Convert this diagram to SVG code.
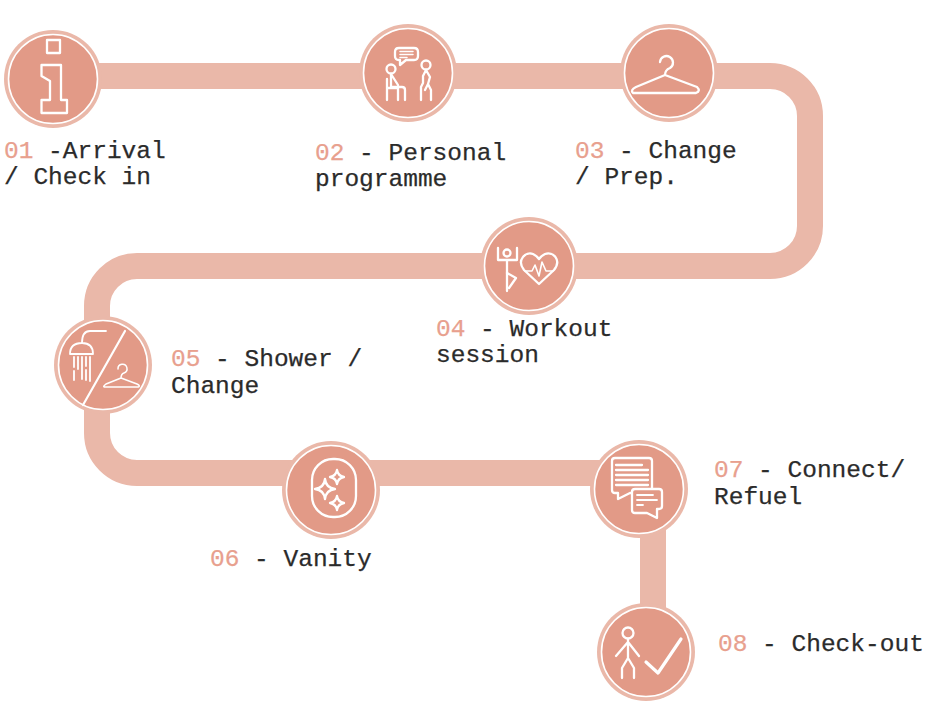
<svg xmlns="http://www.w3.org/2000/svg" width="927" height="701" viewBox="0 0 927 701">
<style>
.band{fill:none;stroke:#eab8a9;stroke-width:26}
.o{fill:#eab8a9}
.i{fill:#e29a87;stroke:#fff;stroke-width:1.6}
.g{fill:none;stroke:#fff;stroke-width:2.3;stroke-linecap:round;stroke-linejoin:round}
text{font-family:"Liberation Mono","DejaVu Sans Mono",monospace;font-size:24.5px;fill:#2b2b2b;stroke:#2b2b2b;stroke-width:.25}
text .n{fill:#e8a08e;stroke:#e8a08e}
</style>
<rect width="927" height="701" fill="#fff"/>
<g id="connectors">
<path class="band" d="M53 76H770A40 40 0 0 1 810 116V226A40 40 0 0 1 770 266H137A40 40 0 0 0 97 306V433A40 40 0 0 0 137 473H639"/>
<path class="band" d="M653 489V652"/>
</g>
<g id="node-01">
<circle class="o" cx="53" cy="79" r="49"/><circle class="i" cx="53" cy="79" r="44.5"/>
<path class="g" stroke-linejoin="miter" d="M47 40H60V53H47ZM41.500 65H61V100H67V113H41.500V100H50V81L41.500 76Z"/>
<text x="4" y="158"><tspan class="n">01</tspan> -Arrival</text>
<text x="4" y="184">/ Check in</text>
</g>
<g id="node-02">
<circle class="o" cx="408" cy="73" r="49"/><circle class="i" cx="408" cy="73" r="44.5"/>
<g class="g">
<path d="M399 48H414Q418 48 418 52V56Q418 60 414 60H406L400 65L400 60H399Q395 60 395 56V52Q395 48 399 48Z"/>
<path stroke-width="1.5" d="M400 51.500H413M400 54.500H413M400 57.500H407"/>
<circle cx="391" cy="69" r="4.500"/><circle cx="426" cy="65" r="4.500"/>
<path d="M387 79V100M391 74V87M391 74L398 85M391 87H402Q405 87 405 90V100M387 88H398V100"/>
<path d="M426 70L423 76V83L421 87V100M426 70L430 77L428 84L431 90V100M428 84L425 90"/>
</g>
<text x="315" y="160"><tspan class="n">02</tspan> - Personal</text>
<text x="315" y="186">programme</text>
</g>
<g id="node-03">
<circle class="o" cx="669" cy="73" r="49"/><circle class="i" cx="669" cy="73" r="44.5"/>
<path class="g" stroke-width="2.600" d="M660 62A6.500 6.500 0 1 1 670 68Q665 70 665 75L636 87Q630 90 633 93H696Q701 91 697 87L665 75"/>
<text x="575" y="158"><tspan class="n">03</tspan> - Change</text>
<text x="575" y="184">/ Prep.</text>
</g>
<g id="node-04">
<circle class="o" cx="529" cy="266" r="49"/><circle class="i" cx="529" cy="266" r="44.5"/>
<g class="g">
<path d="M498 248V260H517V248M507 260V291"/>
<circle cx="507" cy="253" r="3.500"/>
<path d="M507 273L516 278L509 288"/>
<path d="M539 284L524 270C516 260 526 251 533 254Q537 256 539 259Q541 256 545 254C553 251 562 260 554 270Z"/>
<path stroke-width="1.6" d="M525 271H532L535 265L539 276L542 262L546 271H553"/>
</g>
<text x="436" y="336"><tspan class="n">04</tspan> - Workout</text>
<text x="436" y="362">session</text>
</g>
<g id="node-05">
<circle class="o" cx="103" cy="365" r="49"/><circle class="i" cx="103" cy="365" r="44.5"/>
<g class="g">
<path d="M125 331L83 405" stroke-width="2.200"/>
<path stroke-width="1.800" d="M106 331H90Q82 331 82 343M70 354Q70 343 82 343Q93 343 93 354Z"/>
<path stroke-width="1.800" d="M74 357V367M74 371V380M78 357V369M82 357V379M86 357V366M86 370V380M90 357V381"/>
<path stroke-width="1.500" d="M118 369A4.500 4.500 0 1 1 124 373Q121 374 121 378L106 384Q102 387 105 387H138Q141 386 137 384L121 378"/>
</g>
<text x="171" y="366"><tspan class="n">05</tspan> - Shower /</text>
<text x="171" y="393">Change</text>
</g>
<g id="node-06">
<circle class="o" cx="331" cy="490" r="49"/><circle class="i" cx="331" cy="490" r="44.5"/>
<g class="g" stroke-width="1.700">
<rect x="312" y="459" width="44" height="58" rx="21"/>
<path d="M325 479Q326 488 335 489Q326 490 325 499Q324 490 315 489Q324 488 325 479Z"/>
<path d="M337 470Q338 476 344 477Q338 478 337 484Q336 478 330 477Q336 476 337 470Z"/>
<path d="M337 496Q338 502 344 503Q338 504 337 510Q336 504 330 503Q336 502 337 496Z"/>
</g>
<text x="210" y="566"><tspan class="n">06</tspan> - Vanity</text>
</g>
<g id="node-07">
<circle class="o" cx="639" cy="489" r="49"/><circle class="i" cx="639" cy="489" r="44.5"/>
<g class="g">
<path d="M615 458H649Q652 458 652 461V490Q652 493 649 493H630L618 499V493H615Q612 493 612 490V461Q612 458 615 458Z"/>
<path d="M616 465H642M616 470H648M616 475H648M616 480H648M616 485H648"/>
<path fill="#e29a87" d="M635 489H659Q662 489 662 492V506Q662 509 659 509H657V518L647 513H635Q632 513 632 510V492Q632 489 635 489Z"/>
<path stroke-width="1.800" d="M637 495H653M637 500H657M637 505H643"/>
</g>
<text x="714" y="477"><tspan class="n">07</tspan> - Connect/</text>
<text x="714" y="504">Refuel</text>
</g>
<g id="node-08">
<circle class="o" cx="646" cy="652" r="49"/><circle class="i" cx="646" cy="652" r="44.5"/>
<g class="g">
<circle cx="628" cy="633" r="5.500"/>
<path d="M628 639V658L622 668V678M628 658L634 668V678M628 642L616 656M628 642L639 656"/>
<path stroke-width="3.200" d="M646 662L658 673L681 639"/>
</g>
<text x="718" y="651"><tspan class="n">08</tspan> - Check-out</text>
</g>
</svg>
